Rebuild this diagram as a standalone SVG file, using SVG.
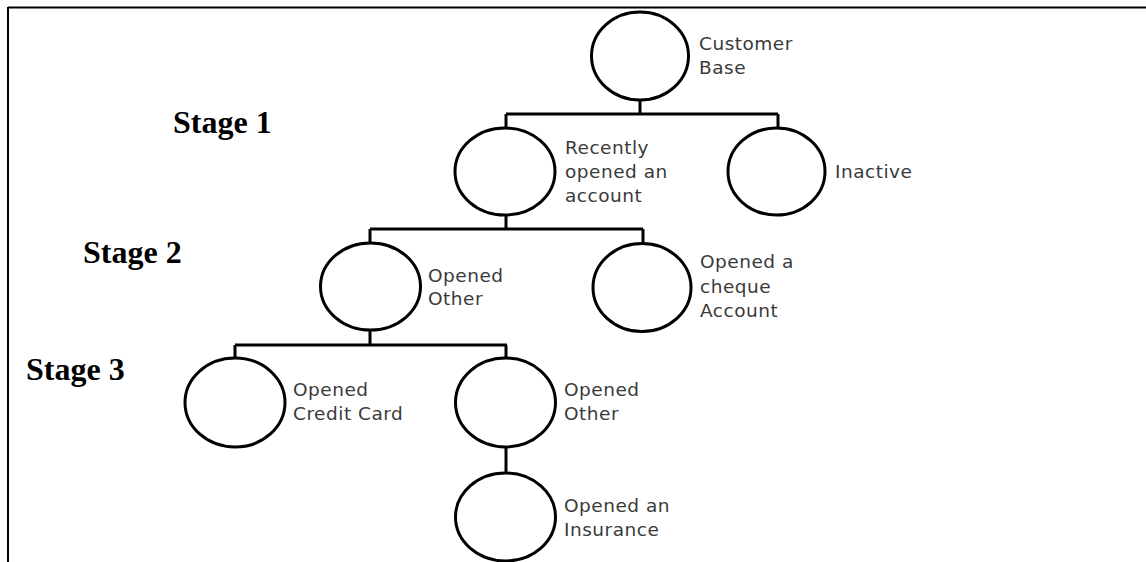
<svg xmlns="http://www.w3.org/2000/svg" width="1146" height="562" viewBox="0 0 1146 562">
<style>
.node{fill:#fff;stroke:#000;stroke-width:3}
.conn{fill:none;stroke:#000;stroke-width:3}
.lbl{font-family:"DejaVu Sans",Verdana,sans-serif;font-size:18.5px;letter-spacing:0.5px;fill:#3a3a3a}
.stage{font-family:"Liberation Serif","Times New Roman",serif;font-size:32px;font-weight:bold;fill:#000}
</style>
<rect width="1146" height="562" fill="#fff"/>
<g id="frame">
<line x1="8" y1="7.5" x2="1146" y2="7.5" stroke="#000" stroke-width="2"/>
<line x1="8" y1="7" x2="8" y2="562" stroke="#000" stroke-width="2"/>
</g>
<g id="stages">
<text class="stage" x="173" y="133">Stage 1</text>
<text class="stage" x="83" y="263">Stage 2</text>
<text class="stage" x="26" y="380">Stage 3</text>
</g>
<g id="connectors">
<path class="conn" d="M640 100V114M506 114H778M506 114V128M778 114V128"/>
<path class="conn" d="M506 215V229M370 229H643M370 229V243M643 229V243"/>
<path class="conn" d="M370 330V345M235 345H507M235 345V358M506 345V358"/>
<path class="conn" d="M506 447V473"/>
</g>
<g id="customer-base">
<ellipse class="node" cx="640" cy="56" rx="48.5" ry="44"/>
<text class="lbl" x="699" y="50">Customer</text>
<text class="lbl" x="699" y="74">Base</text>
</g>
<g id="recently-opened">
<ellipse class="node" cx="505" cy="171.5" rx="50" ry="43.5"/>
<text class="lbl" x="565" y="154">Recently</text>
<text class="lbl" x="565" y="178">opened an</text>
<text class="lbl" x="565" y="202">account</text>
</g>
<g id="inactive">
<ellipse class="node" cx="776.5" cy="171.5" rx="48.5" ry="43.5"/>
<text class="lbl" x="835" y="178">Inactive</text>
</g>
<g id="opened-other-2">
<ellipse class="node" cx="370.5" cy="286.5" rx="50" ry="43.5"/>
<text class="lbl" x="428" y="282">Opened</text>
<text class="lbl" x="428" y="305">Other</text>
</g>
<g id="opened-cheque">
<ellipse class="node" cx="642" cy="287.5" rx="49" ry="44"/>
<text class="lbl" x="700" y="268">Opened a</text>
<text class="lbl" x="700" y="293">cheque</text>
<text class="lbl" x="700" y="317">Account</text>
</g>
<g id="opened-credit-card">
<ellipse class="node" cx="235" cy="402.5" rx="50" ry="44.5"/>
<text class="lbl" x="293" y="396">Opened</text>
<text class="lbl" x="293" y="420">Credit Card</text>
</g>
<g id="opened-other-3">
<ellipse class="node" cx="505.5" cy="402.5" rx="50" ry="44.5"/>
<text class="lbl" x="564" y="396">Opened</text>
<text class="lbl" x="564" y="420">Other</text>
</g>
<g id="opened-insurance">
<ellipse class="node" cx="505.5" cy="517" rx="50" ry="44"/>
<text class="lbl" x="564" y="512">Opened an</text>
<text class="lbl" x="564" y="536">Insurance</text>
</g>
</svg>
